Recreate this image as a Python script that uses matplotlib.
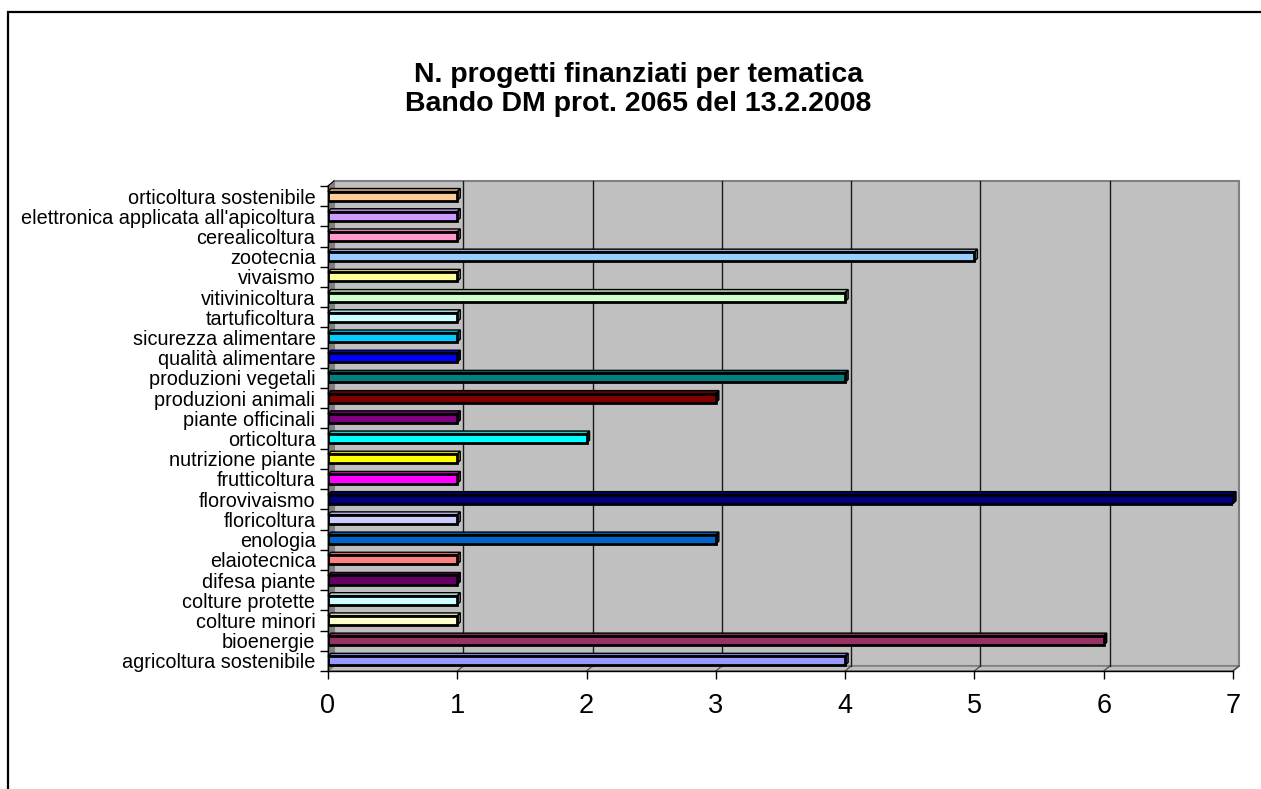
#!/usr/bin/env python3

# Horizontal bar chart of funded projects per theme, drawn with an Excel-like 3D frame.

import matplotlib
matplotlib.use("Agg")
import matplotlib.pyplot as plt
from matplotlib.patches import Rectangle, Polygon

plt.rcParams["font.family"] = ["Liberation Sans", "DejaVu Sans"]

temi = [
    "agricoltura sostenibile", "bioenergie", "colture minori", "colture protette",
    "difesa piante", "elaiotecnica", "enologia", "floricoltura", "florovivaismo",
    "frutticoltura", "nutrizione piante", "orticoltura", "piante officinali",
    "produzioni animali", "produzioni vegetali", "qualità alimentare",
    "sicurezza alimentare", "tartuficoltura", "vitivinicoltura", "vivaismo",
    "zootecnia", "cerealicoltura", "elettronica applicata all'apicoltura",
    "orticoltura sostenibile",
]
progetti = [4, 6, 1, 1, 1, 1, 3, 1, 7, 1, 1, 2, 1, 3, 4, 1, 1, 1, 4, 1, 5, 1, 1, 1]
colori = [
    "#9999FF", "#993366", "#FFFFCC", "#CCFFFF", "#660066", "#FF8080", "#0066CC",
    "#CCCCFF", "#000080", "#FF00FF", "#FFFF00", "#00FFFF", "#800080", "#800000",
    "#008080", "#0000FF", "#00CCFF", "#CCFFFF", "#CCFFCC", "#FFFF99", "#99CCFF",
    "#FF99CC", "#CC99FF", "#FFCC99",
]
xmax = 7


def scuro(c, f=0.6):
    r, g, b = matplotlib.colors.to_rgb(c)
    return (r * f, g * f, b * f)


fig = plt.figure(figsize=(12.61, 7.89), dpi=100)
ax = fig.add_axes([0.2601, 0.1496, 0.7177, 0.6147])
ax.set_facecolor("none")

n = len(temi)
ax.set_xlim(0, xmax)
ax.set_ylim(-0.5, n - 0.5)

# depth of the wall and of the bars, converted from pixels to data units
px_x = xmax / 905.0
px_y = n / 485.0
dx, dy = 6 * px_x, 5 * px_y
bx, by = 3 * px_x, 3 * px_y

y0, y1 = -0.5, n - 0.5

# back wall, side wall and floor
ax.add_patch(Rectangle((dx, y0 + dy), xmax, n, facecolor="#C0C0C0",
                       edgecolor="#808080", lw=1.5, zorder=0.5, clip_on=False))
ax.add_patch(Polygon([(0, y0), (0, y1), (dx, y1 + dy), (dx, y0 + dy)],
                     facecolor="#808080", edgecolor="#808080", lw=0.8,
                     zorder=0.6, clip_on=False))
ax.add_patch(Polygon([(0, y0), (xmax, y0), (xmax + dx, y0 + dy), (dx, y0 + dy)],
                     facecolor="#C0C0C0", edgecolor="#808080", lw=1.2,
                     zorder=0.6, clip_on=False))
for x in range(1, xmax):
    ax.plot([x + dx, x + dx], [y0 + dy, y1 + dy], color="#1a1a1a", lw=1,
            zorder=0.7, clip_on=False)
for x in range(1, xmax + 1):
    ax.plot([x, x + dx], [y0, y0 + dy], color="#404040", lw=0.8,
            zorder=0.7, clip_on=False)
ax.plot([0, dx], [y1, y1 + dy], color="black", lw=0.8, zorder=0.7, clip_on=False)

# bars with top and end faces
h = 0.45
for i, (v, c) in enumerate(zip(progetti, colori)):
    top = [(0, i + h / 2), (v, i + h / 2), (v + bx, i + h / 2 + by), (bx, i + h / 2 + by)]
    end = [(v, i - h / 2), (v, i + h / 2), (v + bx, i + h / 2 + by), (v + bx, i - h / 2 + by)]
    ax.add_patch(Polygon(top, facecolor=scuro(c, 0.85), edgecolor="black", lw=1.0,
                         zorder=2.9, clip_on=False))
    ax.add_patch(Polygon(end, facecolor=scuro(c, 0.6), edgecolor="black", lw=1.0,
                         zorder=2.9, clip_on=False))
    ax.barh(i, v, height=h, color=c, edgecolor="black", lw=2.0, zorder=3)

ax.set_yticks(range(n))
ax.set_yticklabels(temi, fontsize=14.3)
ax.set_yticks([k - 0.5 for k in range(n + 1)], minor=True)
ax.tick_params(axis="y", which="major", length=0, pad=9)
ax.tick_params(axis="y", which="minor", length=6, width=1, direction="out")

ax.set_xticks(range(xmax + 1))
ax.set_xticklabels([str(k) for k in range(xmax + 1)], fontsize=19.5)
ax.tick_params(axis="x", length=6, width=1, direction="out", pad=10)

for s in ["top", "right"]:
    ax.spines[s].set_visible(False)
for s in ["left", "bottom"]:
    ax.spines[s].set_color("black")
    ax.spines[s].set_linewidth(1)
    ax.spines[s].set_zorder(4)

fig.text(0.506, 0.887, "N. progetti finanziati per tematica\nBando DM prot. 2065 del 13.2.2008",
         ha="center", va="center", fontsize=20.5, fontweight="bold", linespacing=1.15)

# outer chart border, running off the right and bottom edges
fig.add_artist(Rectangle((8 / 1261, -0.05), 1.1, 1 - 12 / 789 + 0.05,
                         transform=fig.transFigure, facecolor="none",
                         edgecolor="black", lw=1.6, clip_on=False))

fig.savefig("out.png", dpi=100)
